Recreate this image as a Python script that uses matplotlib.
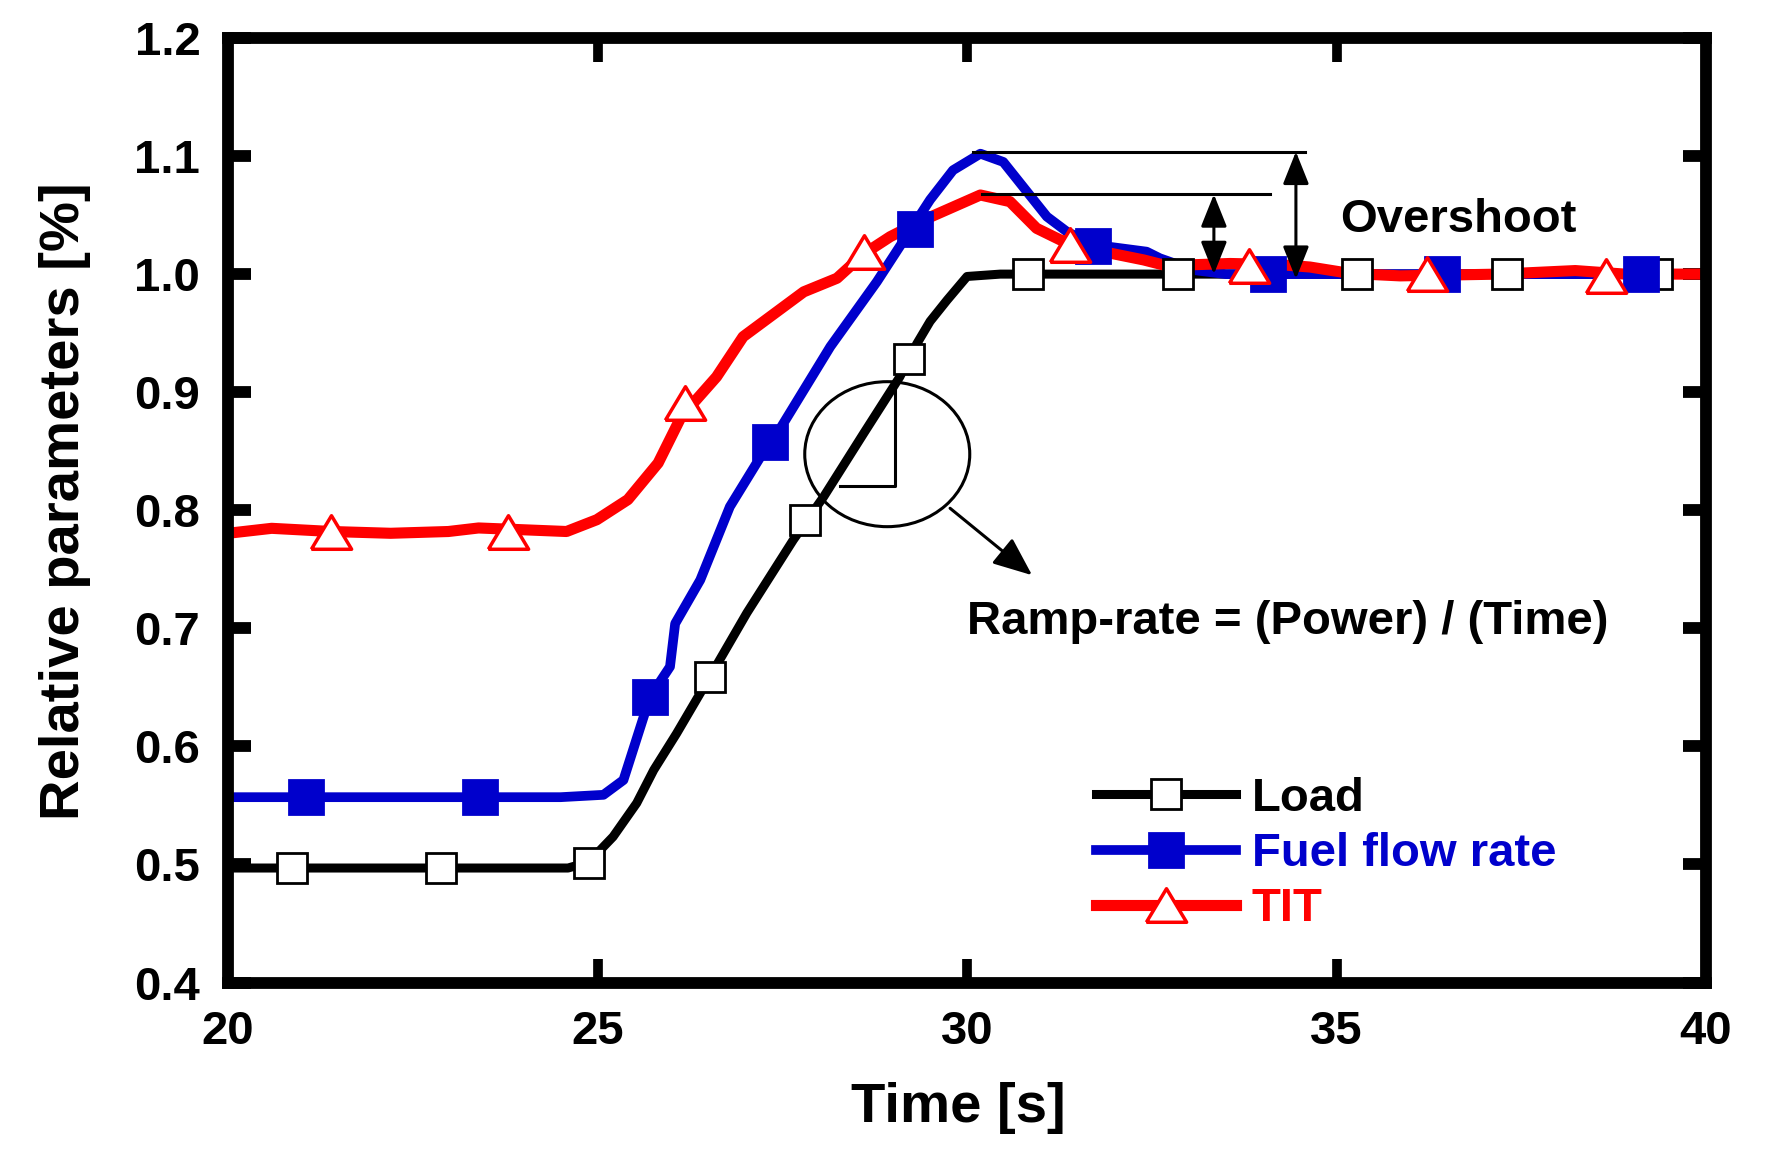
import matplotlib
matplotlib.use("Agg")
import matplotlib.pyplot as plt
from matplotlib.lines import Line2D
from matplotlib.patches import Ellipse

plt.rcParams['font.family'] = ['Liberation Sans', 'DejaVu Sans']
plt.rcParams['font.weight'] = 'bold'

# Load (black) - line and marker samples
load_t = [20, 24.6, 24.88, 25.21, 25.53, 25.76, 26.07, 26.52, 27.02, 27.65, 28.06,
          28.6, 29.09, 29.32, 29.5, 29.73, 30.0, 30.45, 40]
load_v = [0.497, 0.497, 0.502, 0.5235, 0.552, 0.58, 0.611, 0.659, 0.713, 0.775, 0.8115,
          0.865, 0.913, 0.941, 0.96, 0.978, 0.998, 1.0, 1.0]
load_mt = [20.87, 22.88, 24.88, 26.52, 27.81, 29.22, 30.83, 32.85, 35.28, 37.31, 39.34]
load_mv = [0.497, 0.497, 0.5015, 0.659, 0.792, 0.928, 1.0, 1.0, 1.0, 1.0, 1.0]

# Fuel flow rate (blue)
fuel_t = [20, 24.5, 25.08, 25.35, 25.71, 25.98, 26.05, 26.39, 26.79, 27.33, 27.47, 28.15,
          28.78, 29.5, 29.81, 30.18, 30.49, 31.08, 31.35, 31.7, 32.43, 32.61, 33.06, 33.5, 40]
fuel_v = [0.557, 0.557, 0.559, 0.5715, 0.642, 0.6675, 0.704, 0.741, 0.803, 0.858, 0.869, 0.9386,
          0.9936, 1.063, 1.088, 1.102, 1.095, 1.0487, 1.036, 1.025, 1.019, 1.0134, 1.0035, 1.0, 1.0]
fuel_mt = [21.06, 23.41, 25.71, 27.33, 29.30, 31.70, 34.07, 36.43, 39.12]
fuel_mv = [0.557, 0.557, 0.642, 0.858, 1.038, 1.024, 1.0, 1.0, 1.0]

# TIT (red)
tit_t = [20, 20.59, 21.4, 22.2, 22.98, 23.39, 24.58, 24.99, 25.41, 25.82, 26.13, 26.61, 26.97,
         27.79, 28.24, 28.6, 28.96, 29.36, 30.18, 30.58, 30.94, 31.26, 31.94, 32.39, 32.66,
         33.09, 33.56, 34.24, 34.64, 35.18, 35.86, 37.21, 38.23, 38.9, 40]
tit_v = [0.7805, 0.7847, 0.782, 0.7805, 0.782, 0.785, 0.782, 0.792, 0.809, 0.84, 0.879, 0.913, 0.947,
         0.985, 0.9965, 1.017, 1.0317, 1.0444, 1.067, 1.0614, 1.0388, 1.029, 1.0177, 1.012, 1.0077,
         1.008, 1.009, 1.008, 1.006, 1.0006, 0.9985, 1.0, 1.003, 1.0, 1.0]
tit_mt = [21.39, 23.79, 26.18, 28.60, 31.39, 33.82, 36.23, 38.65]
tit_mv = [0.782, 0.782, 0.8906, 1.019, 1.0247, 1.007, 1.0, 0.998]

labels = ['Load', 'Fuel flow rate', 'TIT']
colors = ['black', '#0000cc', '#ff0000']

tri = [(-1.2, -1), (1.2, -1), (0, 1), (-1.2, -1)]

fig = plt.figure(figsize=(17.79, 11.61), dpi=100)
ax = fig.add_axes([0.1282, 0.1537, 0.959 - 0.1282, 0.9673 - 0.1537])

# lines first, markers on top
ax.plot(load_t, load_v, color=colors[0], lw=6.5, zorder=2)
ax.plot(fuel_t, fuel_v, color=colors[1], lw=7, zorder=2)
ax.plot(tit_t, tit_v, color=colors[2], lw=8, zorder=2)

load_style = dict(marker='s', ms=21, mfc='white', mec='black', mew=2)
fuel_style = dict(marker='s', ms=24, mfc=colors[1], mec=colors[1], mew=2)
tit_style = dict(marker=tri, ms=29, mfc='white', mec=colors[2], mew=2.5)

ax.plot(load_mt, load_mv, ls='none', zorder=3, **load_style)
ax.plot(fuel_mt, fuel_mv, ls='none', zorder=4, **fuel_style)
ax.plot(tit_mt, tit_mv, ls='none', zorder=5, **tit_style)

# overshoot annotation
ax.plot([30.08, 34.57], [1.1037, 1.1037], color='black', lw=2.2, zorder=6)
ax.plot([30.2, 34.1], [1.0676, 1.0676], color='black', lw=2.2, zorder=6)
arr = dict(arrowstyle='<|-|>,head_length=1.0,head_width=0.4', color='black', lw=2.2,
           shrinkA=0, shrinkB=0, mutation_scale=20)
ax.annotate('', xy=(33.34, 1.0), xytext=(33.34, 1.0676), arrowprops=arr, zorder=6)
ax.annotate('', xy=(34.45, 0.996), xytext=(34.45, 1.1037), arrowprops=arr, zorder=6)
ax.text(35.05, 1.0357, 'Overshoot', fontsize=34, fontweight='bold', va='baseline', ha='left')

# ramp-rate annotation
ax.add_patch(Ellipse((28.92, 0.8475), 2.233, 0.1228, fill=False, ec='black', lw=2.2, zorder=6))
ax.plot([28.28, 29.03, 29.03], [0.8208, 0.8208, 0.910], color='black', lw=2.2, zorder=6)
ax.annotate('', xy=(30.88, 0.745), xytext=(29.77, 0.8017),
            arrowprops=dict(arrowstyle='-|>,head_length=1.2,head_width=0.5', color='black',
                            lw=2.2, shrinkA=0, shrinkB=0, mutation_scale=20), zorder=6)
ax.text(30.0, 0.6952, 'Ramp-rate = (Power) / (Time)', fontsize=34, fontweight='bold',
        va='baseline', ha='left')

ax.set_xlim(20, 40)
ax.set_ylim(0.4, 1.2)
ax.set_xticks([20, 25, 30, 35, 40])
ax.set_yticks([0.4, 0.5, 0.6, 0.7, 0.8, 0.9, 1.0, 1.1, 1.2])
ax.set_yticklabels(['0.4', '0.5', '0.6', '0.7', '0.8', '0.9', '1.0', '1.1', '1.2'])
for s in ax.spines.values():
    s.set_linewidth(8.5)
ax.tick_params(axis='y', direction='in', length=16.5, width=8.5, left=True, right=True,
               labelsize=34, pad=20)
ax.tick_params(axis='x', direction='in', length=17, width=7, top=True, bottom=True,
               labelsize=34, pad=20)
for lab in ax.get_xticklabels() + ax.get_yticklabels():
    lab.set_fontweight('bold')

ax.set_xlabel('Time [s]', fontsize=40.5, fontweight='bold', labelpad=20)
ax.set_ylabel('Relative parameters [%]', fontsize=40.5, fontweight='bold', labelpad=31)
ax.xaxis.label.set_x(0.494)
ax.yaxis.label.set_y(0.51)

handles = [Line2D([], [], color=colors[0], lw=6.5, **load_style),
           Line2D([], [], color=colors[1], lw=7, **fuel_style),
           Line2D([], [], color=colors[2], lw=8, **tit_style)]
leg = ax.legend(handles, labels, loc='center left', bbox_to_anchor=(31.75, 0.5088),
                bbox_transform=ax.transData, frameon=False, borderpad=0, borderaxespad=0,
                handlelength=2.95, handletextpad=0.34, labelspacing=0.24,
                prop={'size': 34, 'weight': 'bold'})
for txt, c in zip(leg.get_texts(), colors):
    txt.set_color(c)

fig.savefig('out.png', dpi=100)
